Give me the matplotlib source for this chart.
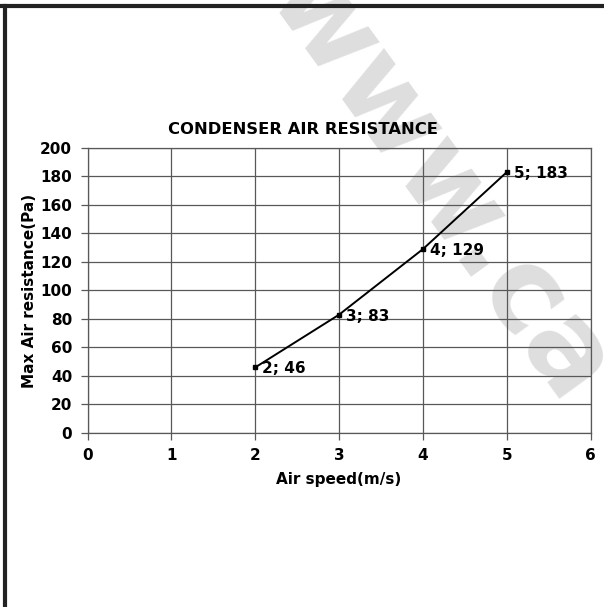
import matplotlib
matplotlib.use('Agg')
import matplotlib.pyplot as plt
import matplotlib.lines as mlines

speed = [2, 3, 4, 5]
resistance = [46, 83, 129, 183]
xTicks = [0, 1, 2, 3, 4, 5, 6]
yTicks = [0, 20, 40, 60, 80, 100, 120, 140, 160, 180, 200]

plt.rcParams['font.family'] = 'DejaVu Sans'
plt.rcParams['font.weight'] = 'bold'

fig = plt.figure(figsize=(6.04, 6.07), dpi=100)

# faint watermark behind the chart
fig.text(440 / 604, 1 - 185 / 607, 'www.ca', fontsize=84, color='#dedede', rotation=-54,
         ha='center', va='center', fontweight='bold', rotation_mode='anchor', zorder=0)

# frame lines at the top and left of the picture
fig.add_artist(mlines.Line2D([0, 1], [0.9905, 0.9905], color='#222222', lw=3))
fig.add_artist(mlines.Line2D([0.0075, 0.0075], [0, 0.9905], color='#222222', lw=3))

ax = fig.add_axes([0.1449, 0.2867, 0.8328, 0.4695])
ax.set_zorder(2)
ax.set_facecolor('none')
ax.set_xlim(0, 6)
ax.set_ylim(0, 200)
ax.set_xticks(xTicks)
ax.set_yticks(yTicks)
ax.grid(True, color='#585858', lw=0.9)
ax.set_axisbelow(True)
for s in ax.spines.values():
    s.set_color('#585858')
    s.set_linewidth(0.9)
ax.tick_params(direction='out', length=5, width=0.9, color='#585858',
               labelsize=11, pad=6)

ax.plot(speed, resistance, color='black', lw=1.4, marker='s', markersize=3,
        clip_on=False, zorder=3)
for x, y in zip(speed, resistance):
    ax.annotate('%d; %d' % (x, y), (x, y), xytext=(5, -1), textcoords='offset points',
                ha='left', va='center', fontsize=11, fontweight='bold')

ax.set_xlabel('Air speed(m/s)', fontsize=11, fontweight='bold', labelpad=6)
ax.set_ylabel('Max Air resistance(Pa)', fontsize=11, fontweight='bold', labelpad=2)
fig.text(303 / 604, 1 - 130 / 607, 'CONDENSER AIR RESISTANCE', fontsize=11.8,
         fontweight='bold', ha='center', va='center', zorder=3)

fig.savefig('out.png', dpi=100)
